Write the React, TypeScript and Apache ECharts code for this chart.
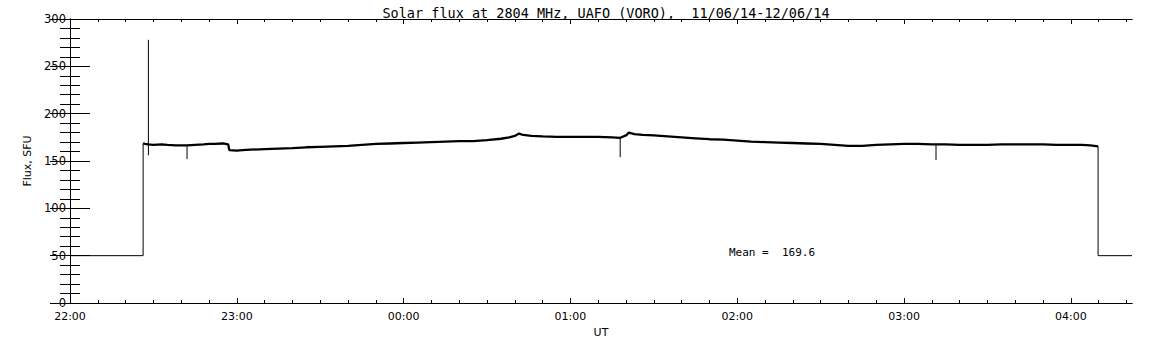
import React, { useEffect, useRef } from "react";
import * as echarts from "echarts";

// Flux band (minutes since 22:00 UT -> SFU), without the narrow spikes
const bandMinutes: number[] = [
  26.3, 27, 28, 30, 33, 35, 38, 40, 42, 45,
  48, 50, 52, 55, 56.9, 57.3, 60, 62, 65, 70,
  75, 80, 85, 90, 95, 100, 105, 110, 115, 120,
  125, 130, 135, 140, 145, 150, 155, 158, 160, 161.5,
  163, 166, 170, 175, 180, 185, 190, 195, 197.9, 200,
  201, 203, 206, 210, 215, 220, 225, 230, 235, 240,
  245, 250, 255, 260, 265, 270, 275, 280, 285, 290,
  295, 300, 305, 310, 315, 320, 325, 330, 335, 340,
  345, 350, 355, 360, 364, 367, 369.8,
];
const bandFlux: number[] = [
  168.5, 168, 167.5, 167, 167.5, 167, 166.5, 166.5, 166.5, 167,
  167.5, 168, 168, 168.5, 167.5, 161.5, 161, 161.5, 162, 162.5,
  163, 163.5, 164.5, 165, 165.5, 166, 167, 168, 168.5, 169,
  169.5, 170, 170.5, 171, 171, 172, 173.5, 175, 176.5, 179,
  177.5, 176.5, 176, 175.5, 175.5, 175.5, 175.5, 175, 174.5, 177,
  180, 178.5, 177.5, 177, 176, 175, 174, 173, 172.5, 171.5,
  170.5, 170, 169.5, 169, 168.5, 168, 167, 166, 166, 167,
  167.5, 168, 168, 167.5, 167.5, 167, 167, 167, 167.5, 167.5,
  167.5, 167.5, 167, 167, 167, 166.5, 165.5,
];
// Receiver off (baseline 50) before and after the observation
const preMinutes: number[] = [0, 26.3, 26.3];
const preFlux: number[] = [50, 50, 168.5];
const postMinutes: number[] = [369.8, 369.8, 382];
const postFlux: number[] = [165.5, 50, 50];
// Narrow spikes: [minute, top, bottom]
const spikeMinutes: number[] = [28.2, 42.1, 197.9, 311.5];
const spikeTop: number[] = [278, 167, 175, 167.5];
const spikeBottom: number[] = [156, 152, 154, 151];

const majorTicks: number[] = [0, 60, 120, 180, 240, 300, 360];
const minorTicks: number[] = [
  10, 20, 30, 40, 50, 70, 80, 90, 100, 110, 130, 140, 150, 160, 170, 190, 200, 210, 220, 230, 250, 260,
  270, 280, 290, 310, 320, 330, 340, 350, 370, 380,
];
const titleText = "Solar flux at 2804 MHz, UAFO (VORO),  11/06/14-12/06/14";
const meanText = "Mean =  169.6";
const X_MAX = 382;

const FONT = "DejaVu Sans";
const MONO = "DejaVu Sans Mono";

function fmt(v: number): string {
  const h = (22 + Math.floor(v / 60)) % 24;
  const m = Math.round(v % 60);
  return String(h).padStart(2, "0") + ":" + String(m).padStart(2, "0");
}

export default function App() {
  const ref = useRef<HTMLDivElement>(null);
  useEffect(() => {
    if (!ref.current) return;
    const chart = echarts.init(ref.current, null, { renderer: "svg" });
    const line = { show: true, lineStyle: { color: "#000", width: 1 } };
    const mkX = (pos: string, ticks: number[], len: number, labels: boolean, extra: any = {}) => ({
      type: "value",
      position: pos,
      min: 0,
      max: X_MAX,
      axisLine: line,
      splitLine: { show: false },
      axisTick: { show: true, inside: true, length: len, customValues: ticks, lineStyle: { color: "#000", width: 1 } },
      axisLabel: labels
        ? {
            show: true,
            customValues: majorTicks,
            formatter: (v: number) => fmt(v),
            color: "#000",
            fontFamily: FONT,
            fontSize: 11,
            margin: 8,
          }
        : { show: false },
      ...extra,
    });
    const mkY = (pos: string, labels: boolean, extra: any = {}) => ({
      type: "value",
      position: pos,
      min: 0,
      max: 300,
      interval: 50,
      axisLine: line,
      splitLine: { show: false },
      axisTick: { show: true, inside: true, length: 20, lineStyle: { color: "#000", width: 1 } },
      minorTick: { show: true, splitNumber: 5, length: 10, lineStyle: { color: "#000", width: 1 } },
      axisLabel: labels
        ? { show: true, color: "#000", fontFamily: FONT, fontSize: 11.5, margin: 4 }
        : { show: false },
      ...extra,
    });
    const spikeData: any[] = [];
    spikeMinutes.forEach((m, i) => {
      spikeData.push([m, spikeTop[i]], [m, spikeBottom[i]], "-");
    });
    const thin = (data: any[]) => ({
      type: "line",
      data,
      connectNulls: false,
      showSymbol: false,
      symbol: "none",
      lineStyle: { color: "#000", width: 1 },
    });
    chart.setOption({
      animation: false,
      backgroundColor: "#fff",
      title: {
        text: titleText,
        left: 601,
        textAlign: "center",
        top: 1,
        textStyle: { color: "#000", fontFamily: MONO, fontSize: 13.5, fontWeight: "normal" },
      },
      grid: { left: 70, right: 20, top: 19, bottom: 42 },
      xAxis: [
        mkX("bottom", majorTicks, 5, true, {
          name: "UT",
          nameLocation: "middle",
          nameGap: 21,
          nameTextStyle: { color: "#000", fontFamily: FONT, fontSize: 11 },
        }),
        mkX("bottom", minorTicks, 3, false),
        mkX("top", majorTicks, 5, false),
        mkX("top", minorTicks, 3, false),
      ],
      yAxis: [
        mkY("left", true, {
          name: "Flux, SFU",
          nameLocation: "middle",
          nameGap: 33,
          nameRotate: 90,
          nameTextStyle: { color: "#000", fontFamily: FONT, fontSize: 11 },
        }),
        mkY("right", false),
      ],
      graphic: [
        {
          type: "text",
          left: 729,
          top: 247,
          style: { text: meanText, fill: "#000", font: `11px "${MONO}"` },
        },
      ],
      series: [
        thin(preMinutes.map((m, i) => [m, preFlux[i]])),
        thin(postMinutes.map((m, i) => [m, postFlux[i]])),
        thin(spikeData),
        {
          type: "line",
          data: bandMinutes.map((m, i) => [m, bandFlux[i]]),
          showSymbol: false,
          symbol: "none",
          lineStyle: { color: "#000", width: 2.3 },
        },
      ],
    });
    return () => chart.dispose();
  }, []);
  return (
    <div
      ref={ref}
      style={{ position: "fixed", left: 0, top: 0, width: 1152, height: 345, background: "#fff" }}
    />
  );
}
